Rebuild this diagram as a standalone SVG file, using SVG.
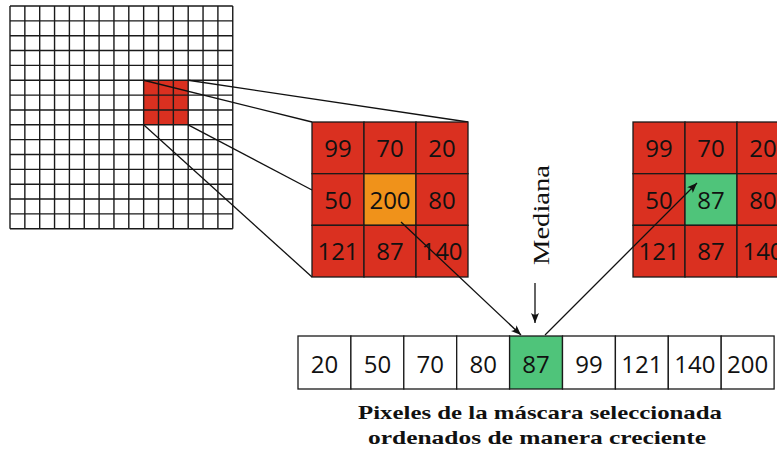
<svg xmlns="http://www.w3.org/2000/svg" width="777" height="450" viewBox="0 0 777 450">
  <style>
    .cell { stroke: #1a1a1a; stroke-width: 1.3; }
    .red { fill: #DA3020; }
    .orange { fill: #F0921A; }
    .green { fill: #4FC47A; }
    .white { fill: #ffffff; }
    .num { font-family: "Open Sans", "Noto Sans", sans-serif; font-size: 24px; fill: #111; text-anchor: middle; }
    .cap { font-family: "Liberation Serif", "Times New Roman", serif; font-weight: bold; font-size: 19px; fill: #111; text-anchor: middle; }
    .side { font-family: "Liberation Serif", "Times New Roman", serif; font-size: 23px; fill: #111; text-anchor: middle; }
    .wire { stroke: #111; stroke-width: 1.3; fill: none; }
  </style>
  <defs>
    <marker id="head" viewBox="0 0 10 8" refX="10" refY="4" markerWidth="10" markerHeight="8" markerUnits="userSpaceOnUse" orient="auto">
      <path d="M0,0 L10,4 L0,8 Q3.5,4 0,0 Z" fill="#111"/>
    </marker>
  </defs>

  <rect width="777" height="450" fill="#ffffff"/>

  <!-- source image: 15 x 15 pixel grid with the selected 3x3 window -->
  <g id="image-grid">
    <rect x="143.65" y="80.25" width="44.55" height="44.55" class="red"/>
    <path stroke="#1a1a1a" stroke-width="1.4" fill="none" d="
      M10,6 V228.75 M24.85,6 V228.75 M39.7,6 V228.75 M54.55,6 V228.75 M69.4,6 V228.75
      M84.25,6 V228.75 M99.1,6 V228.75 M113.95,6 V228.75 M128.8,6 V228.75 M143.65,6 V228.75
      M158.5,6 V228.75 M173.35,6 V228.75 M188.2,6 V228.75 M203.05,6 V228.75 M217.9,6 V228.75 M232.75,6 V228.75
      M10,6 H232.75 M10,20.85 H232.75 M10,35.7 H232.75 M10,50.55 H232.75 M10,65.4 H232.75
      M10,80.25 H232.75 M10,95.1 H232.75 M10,109.95 H232.75 M10,124.8 H232.75 M10,139.65 H232.75
      M10,154.5 H232.75 M10,169.35 H232.75 M10,184.2 H232.75 M10,199.05 H232.75 M10,213.9 H232.75 M10,228.75 H232.75"/>
  </g>

  <!-- projection lines from the window to the enlarged mask -->
  <g id="connectors">
    <line class="wire" x1="143.65" y1="80.25" x2="312" y2="122"/>
    <line class="wire" x1="188.2" y1="80.25" x2="468" y2="122"/>
    <line class="wire" x1="188.2" y1="124.8" x2="312" y2="190"/>
    <line class="wire" x1="143.65" y1="124.8" x2="312" y2="277"/>
  </g>

  <!-- enlarged 3x3 mask -->
  <g id="mask-original">
    <rect x="312" y="122" width="52" height="51.7" class="cell red"/>
    <rect x="364" y="122" width="52" height="51.7" class="cell red"/>
    <rect x="416" y="122" width="52" height="51.7" class="cell red"/>
    <rect x="312" y="173.7" width="52" height="51.6" class="cell red"/>
    <rect x="364" y="173.7" width="52" height="51.6" class="cell orange"/>
    <rect x="416" y="173.7" width="52" height="51.6" class="cell red"/>
    <rect x="312" y="225.3" width="52" height="51.7" class="cell red"/>
    <rect x="364" y="225.3" width="52" height="51.7" class="cell red"/>
    <rect x="416" y="225.3" width="52" height="51.7" class="cell red"/>
    <text class="num" x="338" y="157">99</text>
    <text class="num" x="390" y="157">70</text>
    <text class="num" x="442" y="157">20</text>
    <text class="num" x="338" y="208.5">50</text>
    <text class="num" x="390" y="208.5">200</text>
    <text class="num" x="442" y="208.5">80</text>
    <text class="num" x="338" y="260">121</text>
    <text class="num" x="390" y="260">87</text>
    <text class="num" x="442" y="260">140</text>
  </g>

  <!-- resulting mask with the median in the centre -->
  <g id="mask-result">
    <rect x="633" y="122" width="52" height="51.7" class="cell red"/>
    <rect x="685" y="122" width="52" height="51.7" class="cell red"/>
    <rect x="737" y="122" width="52" height="51.7" class="cell red"/>
    <rect x="633" y="173.7" width="52" height="51.6" class="cell red"/>
    <rect x="685" y="173.7" width="52" height="51.6" class="cell green"/>
    <rect x="737" y="173.7" width="52" height="51.6" class="cell red"/>
    <rect x="633" y="225.3" width="52" height="51.7" class="cell red"/>
    <rect x="685" y="225.3" width="52" height="51.7" class="cell red"/>
    <rect x="737" y="225.3" width="52" height="51.7" class="cell red"/>
    <text class="num" x="659" y="157">99</text>
    <text class="num" x="711" y="157">70</text>
    <text class="num" x="763" y="157">20</text>
    <text class="num" x="659" y="208.5">50</text>
    <text class="num" x="711" y="208.5">87</text>
    <text class="num" x="763" y="208.5">80</text>
    <text class="num" x="659" y="260">121</text>
    <text class="num" x="711" y="260">87</text>
    <text class="num" x="763" y="260">140</text>
  </g>

  <!-- sorted values -->
  <g id="sorted-row">
    <rect x="298" y="336" width="52.9" height="53" class="cell white"/>
    <rect x="350.9" y="336" width="52.9" height="53" class="cell white"/>
    <rect x="403.8" y="336" width="52.9" height="53" class="cell white"/>
    <rect x="456.7" y="336" width="52.9" height="53" class="cell white"/>
    <rect x="509.6" y="336" width="52.9" height="53" class="cell green"/>
    <rect x="562.5" y="336" width="52.9" height="53" class="cell white"/>
    <rect x="615.4" y="336" width="52.9" height="53" class="cell white"/>
    <rect x="668.3" y="336" width="52.9" height="53" class="cell white"/>
    <rect x="721.2" y="336" width="52.9" height="53" class="cell white"/>
    <text class="num" x="324.5" y="372.5">20</text>
    <text class="num" x="377.4" y="372.5">50</text>
    <text class="num" x="430.3" y="372.5">70</text>
    <text class="num" x="483.2" y="372.5">80</text>
    <text class="num" x="536.1" y="372.5">87</text>
    <text class="num" x="589" y="372.5">99</text>
    <text class="num" x="641.9" y="372.5">121</text>
    <text class="num" x="694.8" y="372.5">140</text>
    <text class="num" x="747.7" y="372.5">200</text>
  </g>

  <!-- arrows -->
  <g id="arrows">
    <line class="wire" x1="401" y1="222" x2="521" y2="335" marker-end="url(#head)"/>
    <line class="wire" x1="545" y1="335" x2="697" y2="183" marker-end="url(#head)"/>
    <line class="wire" x1="535" y1="283" x2="535" y2="323" marker-end="url(#head)"/>
  </g>

  <!-- labels -->
  <g id="label-median">
    <text class="side" transform="translate(549,215) rotate(-90)" textLength="100" lengthAdjust="spacingAndGlyphs">Mediana</text>
  </g>
  <g id="label-caption">
    <text class="cap" x="540" y="419" textLength="364" lengthAdjust="spacingAndGlyphs">Pixeles de la máscara seleccionada</text>
    <text class="cap" x="537" y="444" textLength="338" lengthAdjust="spacingAndGlyphs">ordenados de manera creciente</text>
  </g>
</svg>
